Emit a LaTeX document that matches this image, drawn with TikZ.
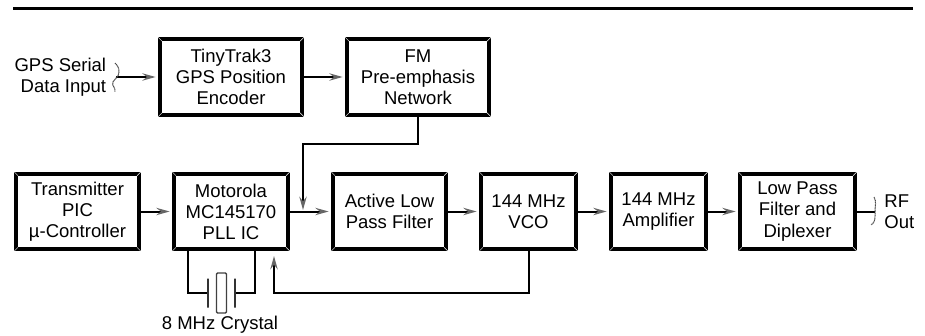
\documentclass[tikz,border=0pt]{standalone}
\usepackage{fontspec}
\setmainfont{Liberation Sans}
\usetikzlibrary{arrows.meta}
\tikzset{
	bevel/.style={draw=white,line width=0.4pt},
	block/.style={shape=rectangle,draw,line width=0.12cm,minimum height=2.27cm,align=center,inner sep=0pt,
		append after command={
			(\tikzlastnode.north west) edge[bevel] ++(0.12,-0.12)
			(\tikzlastnode.north east) edge[bevel] ++(-0.12,-0.12)
			(\tikzlastnode.south west) edge[bevel] ++(0.12,0.12)
			(\tikzlastnode.south east) edge[bevel] ++(-0.12,0.12)}},
	label/.style={shape=rectangle,inner sep=0pt},
	wire/.style={line width=0.06cm,line join=miter},
	sig/.style={wire,-{Stealth[length=0.4cm,width=0.22cm,inset=0.14cm,color=black!60]},shorten >=2pt},
	wave/.style={line width=0.03cm,black!70,dash pattern=on 1pt off 0.4pt},
	plate/.style={shape=rectangle,draw=black!80,line width=0.04cm,minimum width=0pt,minimum height=0.87cm,inner sep=0pt},
	every node/.append style={font=\fontsize{15.8}{18}\selectfont}
}
\begin{document}
\begin{tikzpicture}
	\useasboundingbox (0,0) rectangle (27.75,-10.08);
	\coordinate (ruleL) at (0.39,-0.25);
	\coordinate (ruleR) at (27.39,-0.25);
	\draw[line width=0.08cm] (ruleL) -- (ruleR);
	% top row
	\node[label,align=right](gps) at (1.81,-2.31){GPS Serial\\Data Input};
	\node[block,minimum width=4.26cm](enc) at (6.93,-2.31){TinyTrak3\\GPS Position\\Encoder};
	\node[block,minimum width=4.26cm](fm) at (12.54,-2.31){FM\\Pre-emphasis\\Network};
	% bottom row
	\node[block,minimum width=3.69cm](pic) at (2.325,-6.345){Transmitter\\PIC\\µ-Controller};
	\node[block,minimum width=3.42cm](pll) at (6.93,-6.345){Motorola\\MC145170\\PLL IC};
	\node[block,minimum width=3.39cm](lpf) at (11.685,-6.345){Active Low\\Pass Filter};
	\node[block,minimum width=2.85cm](vco) at (15.855,-6.345){144 MHz\\VCO};
	\node[block,minimum width=2.85cm](amp) at (19.755,-6.345){144 MHz\\Amplifier};
	\node[block,minimum width=3.45cm](dip) at (23.925,-6.345){Low Pass\\Filter and\\Diplexer};
	\node[label,align=left](rf) at (26.98,-6.345){RF\\Out};
	% crystal
	\node[plate](pa) at (6.24,-8.79){};
	\node[plate](pb) at (7.05,-8.79){};
	\node[shape=rectangle,draw=black!75,line width=0.04cm,rounded corners=1pt,minimum width=0.3cm,minimum height=1.2cm,inner sep=0pt](xtal) at (6.645,-8.79){};
	\node[label](xl) at (6.6,-9.75){8 MHz Crystal};
	\coordinate (ca) at (5.64,-8.79);
	\coordinate (cb) at (7.65,-8.79);
	\coordinate (gpsIn) at (3.48,-2.31);
	\coordinate (rfOut) at (26.25,-6.345);
	\coordinate (fmA) at (9.09,-4.32);
	\coordinate (fmB) at (9.09,-6.3);
	\coordinate (fbA) at (8.22,-8.79);
	\coordinate (fbB) at (8.22,-7.68);
	\draw[sig] (gpsIn) -- (enc);
	\draw[sig] (enc) -- (fm);
	\draw[sig] (pic) -- (pll);
	\draw[sig] (pll) -- (lpf);
	\draw[sig] (lpf) -- (vco);
	\draw[sig] (vco) -- (amp);
	\draw[sig] (amp) -- (dip);
	\draw[wire] (dip) -- (rfOut);
	\draw[sig,shorten >=0pt] (fm) |- (fmA) -- (fmB);
	\draw[sig,shorten >=0pt] (vco) |- (fbA) -- (fbB);
	\draw[wire] (ca |- pll.south) -- (ca) -- (pa);
	\draw[wire] (cb |- pll.south) -- (cb) -- (pb);
	% wavy breaks
	\draw[wave] (3.45,-1.89) to[out=-45,in=90] (3.57,-2.16) to[out=-90,in=60] (3.39,-2.46) to[out=-120,in=70] (3.45,-2.76);
	\draw[wave] (26.22,-5.91) to[out=-60,in=90] (26.25,-6.33) to[out=-90,in=30] (26.13,-6.75);
\end{tikzpicture}
\end{document}
